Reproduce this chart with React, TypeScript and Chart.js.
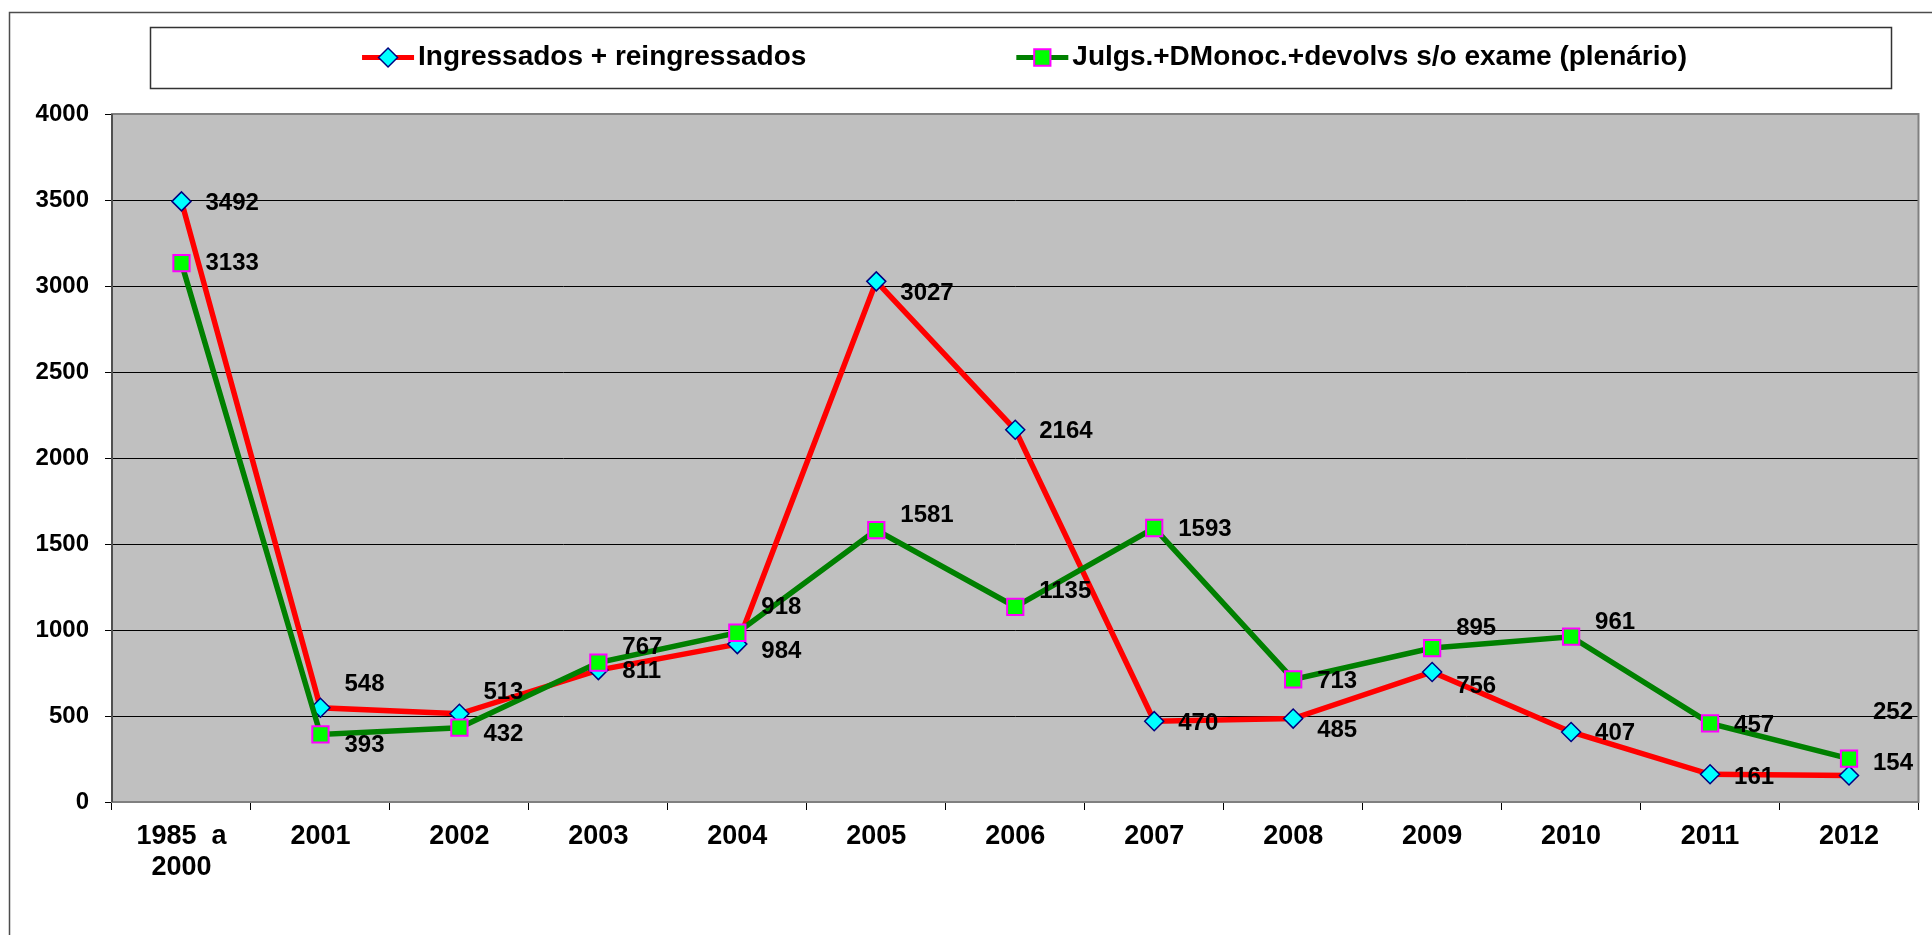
import React, { useEffect, useRef } from 'react';
import { Chart, registerables } from 'chart.js';

Chart.register(...registerables);

const FONT = "'Liberation Sans', Arial, Helvetica, sans-serif";

// ---- data ----
const categories: (string | string[])[] = [
  ['1985  a', '2000'], '2001', '2002', '2003', '2004', '2005', '2006',
  '2007', '2008', '2009', '2010', '2011', '2012',
];
const ingressados = [3492, 548, 513, 767, 918, 3027, 2164, 470, 485, 756, 407, 161, 154];
const julgados = [3133, 393, 432, 811, 984, 1581, 1135, 1593, 713, 895, 961, 457, 252];
const seriesNames = ['Ingressados + reingressados', 'Julgs.+DMonoc.+devolvs s/o exame (plenário)'];
const yMin = 0;
const yMax = 4000;
const yStep = 500;

// vertical nudges (px) of the value labels relative to their point
const ingressadosLabelDy = [2, -23, -21, -23, -37, 12, 2, 2, 12, 14, 1, 3, -12];
const julgadosLabelDy = [0, 11, 7, 9, 19, -15, -15, 1, 2, -20, -14, 2, -46];
const labelNudges = [ingressadosLabelDy, julgadosLabelDy];

function drawMarker(ctx: CanvasRenderingContext2D, style: string, x: number, y: number, r: number,
  fill: string, stroke: string, bw: number) {
  ctx.save();
  ctx.beginPath();
  if (style === 'rectRot') {
    ctx.moveTo(x - r, y);
    ctx.lineTo(x, y - r);
    ctx.lineTo(x + r, y);
    ctx.lineTo(x, y + r);
    ctx.closePath();
  } else {
    const s = Math.SQRT1_2 * r;
    ctx.rect(x - s, y - s, 2 * s, 2 * s);
  }
  ctx.fillStyle = fill;
  ctx.fill();
  ctx.lineWidth = bw;
  ctx.strokeStyle = stroke;
  ctx.stroke();
  ctx.restore();
}

const decorPlugin = {
  id: 'decor',
  beforeDraw(chart: any) {
    const { ctx, chartArea: a, width, height } = chart;
    ctx.save();
    ctx.fillStyle = '#ffffff';
    ctx.fillRect(0, 0, width, height);
    ctx.strokeStyle = '#4d4d4d';
    ctx.lineWidth = 1.5;
    ctx.beginPath();
    ctx.moveTo(9.5, height);
    ctx.lineTo(9.5, 12.5);
    ctx.lineTo(width, 12.5);
    ctx.stroke();
    ctx.fillStyle = '#C0C0C0';
    ctx.fillRect(a.left, a.top, a.right - a.left, a.bottom - a.top);
    ctx.restore();
  },
  beforeDatasetsDraw(chart: any) {
    const { ctx, chartArea: a } = chart;
    ctx.save();
    ctx.strokeStyle = '#808080';
    ctx.lineWidth = 2;
    ctx.strokeRect(a.left, a.top, a.right - a.left, a.bottom - a.top);
    ctx.strokeStyle = '#404040';
    ctx.lineWidth = 1.5;
    ctx.beginPath();
    ctx.moveTo(a.left, a.top);
    ctx.lineTo(a.left, a.bottom);
    ctx.stroke();
    ctx.restore();
  },
  afterDatasetsDraw(chart: any) {
    const { ctx } = chart;
    ctx.save();
    ctx.font = `bold 24px ${FONT}`;
    ctx.fillStyle = '#000000';
    ctx.textAlign = 'left';
    ctx.textBaseline = 'middle';
    chart.data.datasets.forEach((ds: any, di: number) => {
      const meta = chart.getDatasetMeta(di);
      meta.data.forEach((pt: any, i: number) => {
        const dy = labelNudges[di][i] || 0;
        ctx.fillText(String(ds.data[i]), pt.x + 24, pt.y + dy);
      });
    });
    ctx.restore();
  },
  afterDraw(chart: any) {
    const { ctx } = chart;
    ctx.save();
    // legend box
    const bx = 150, by = 27, bw = 1741, bh = 61;
    ctx.strokeStyle = '#333333';
    ctx.lineWidth = 1.5;
    ctx.strokeRect(bx + 0.5, by + 0.5, bw, bh);
    ctx.font = `bold 28px ${FONT}`;
    ctx.textBaseline = 'middle';
    ctx.textAlign = 'left';
    const sampleW = 52;
    const textGap = 4;
    const itemGap = 210;
    const dss = chart.data.datasets;
    const widths = dss.map((d: any) => sampleW + textGap + ctx.measureText(d.label).width);
    const total = widths.reduce((s: number, w: number) => s + w, 0) + itemGap * (dss.length - 1);
    let x = bx + bw / 2 - total / 2 + 4;
    const cy = by + bh / 2;
    dss.forEach((d: any, i: number) => {
      ctx.strokeStyle = d.borderColor;
      ctx.lineWidth = 5;
      ctx.beginPath();
      ctx.moveTo(x, cy);
      ctx.lineTo(x + sampleW, cy);
      ctx.stroke();
      drawMarker(ctx, d.pointStyle, x + sampleW / 2, cy, d.pointRadius, d.pointBackgroundColor,
        d.pointBorderColor, d.pointBorderWidth);
      ctx.fillStyle = '#000000';
      ctx.fillText(d.label, x + sampleW + textGap, cy);
      x += widths[i] + itemGap;
    });
    ctx.restore();
  },
};

export default function App() {
  const ref = useRef<HTMLCanvasElement | null>(null);

  useEffect(() => {
    document.body.style.margin = '0';
    document.body.style.overflow = 'hidden';
    const canvas = ref.current;
    if (!canvas) return;
    const chart = new Chart(canvas, {
      type: 'line',
      data: {
        labels: categories as any,
        datasets: [
          {
            label: seriesNames[0],
            data: ingressados,
            borderColor: '#FF0000',
            backgroundColor: '#FF0000',
            borderWidth: 5.5,
            pointStyle: 'rectRot',
            pointRadius: 9.5,
            pointBackgroundColor: '#00FFFF',
            pointBorderColor: '#000080',
            pointBorderWidth: 1.5,
            tension: 0,
            fill: false,
            order: 2,
          } as any,
          {
            label: seriesNames[1],
            data: julgados,
            borderColor: '#008000',
            backgroundColor: '#008000',
            borderWidth: 5.5,
            pointStyle: 'rect',
            pointRadius: 11.5,
            pointBackgroundColor: '#00FF00',
            pointBorderColor: '#FF00FF',
            pointBorderWidth: 2,
            tension: 0,
            fill: false,
            order: 1,
          } as any,
        ],
      },
      options: {
        responsive: false,
        animation: false,
        devicePixelRatio: 1,
        events: [],
        layout: { padding: { left: 9, top: 114, right: 9, bottom: 33 } },
        plugins: {
          legend: { display: false },
          tooltip: { enabled: false },
          title: { display: false },
        },
        scales: {
          x: {
            type: 'category',
            offset: true,
            grid: {
              offset: true,
              drawOnChartArea: false,
              drawTicks: true,
              tickLength: 8,
              color: '#000000',
              lineWidth: 1,
            },
            border: { display: false },
            ticks: {
              color: '#000000',
              font: { family: FONT, size: 27, weight: 'bold', lineHeight: 1.15 },
              padding: 11,
              maxRotation: 0,
              autoSkip: false,
            },
            afterFit: (scale: any) => { scale.height = 100; },
          },
          y: {
            min: yMin,
            max: yMax,
            grid: {
              color: '#000000',
              lineWidth: 1,
              drawTicks: true,
              tickLength: 7,
            },
            border: { display: false },
            ticks: {
              stepSize: yStep,
              color: '#000000',
              font: { family: FONT, size: 24, weight: 'bold' },
              padding: 16,
              callback: (v: any) => String(v),
            },
            afterFit: (scale: any) => { scale.width = 103; },
          },
        },
      } as any,
      plugins: [decorPlugin],
    });
    return () => chart.destroy();
  }, []);

  return (
    <div style={{ width: 1932, height: 935, position: 'relative' }}>
      <canvas ref={ref} width={1932} height={935} style={{ display: 'block', width: 1932, height: 935 }} />
    </div>
  );
}
